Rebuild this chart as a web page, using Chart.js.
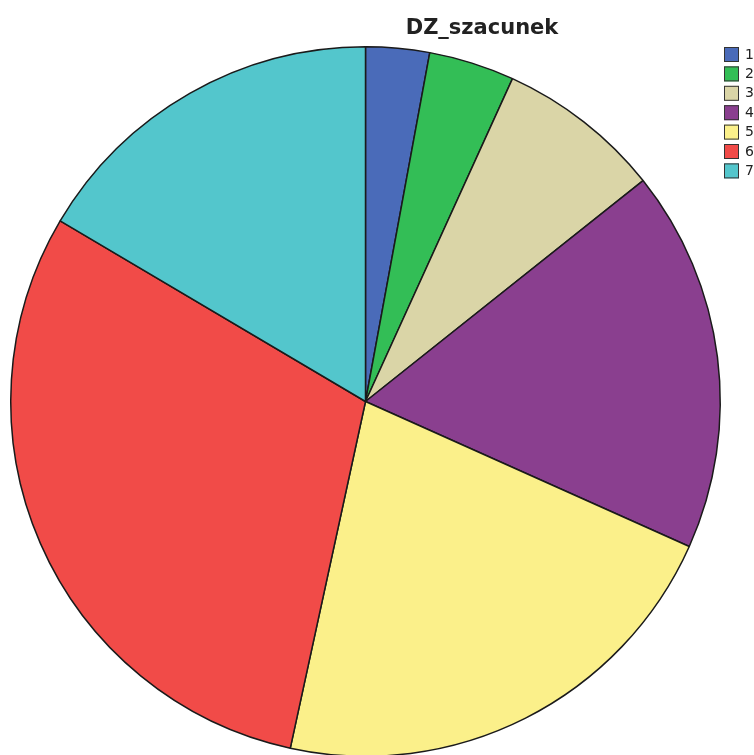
<!DOCTYPE html>
<html>
<head>
<meta charset="utf-8">
<script src="https://cdn.jsdelivr.net/npm/chart.js@4/dist/chart.umd.min.js"></script>
<style>
  html, body { margin: 0; padding: 0; background: #fff; overflow: hidden; }
  #wrap { position: relative; width: 754px; height: 770px; }
</style>
</head>
<body>
<div id="wrap"><canvas id="c" width="754" height="770"></canvas></div>
<script>
// Category codes of DZ_szacunek and their shares (%)
const categories = ['1', '2', '3', '4', '5', '6', '7'];
const shares = [2.9, 3.9, 7.5, 17.4, 21.7, 30.1, 16.5];
const sliceColors = ['#4A6BB9', '#33BE56', '#DAD5A7', '#8A3F8F', '#FBF08A', '#F14B48', '#53C6CC'];
const chartTitle = 'DZ_szacunek';

// Title and square-swatch legend drawn onto the canvas
const decorations = {
  id: 'decorations',
  afterDraw(chart) {
    const ctx = chart.ctx;
    ctx.save();
    ctx.fillStyle = '#222';
    ctx.font = 'bold 21px "DejaVu Sans", sans-serif';
    ctx.textAlign = 'center';
    ctx.textBaseline = 'alphabetic';
    ctx.fillText(chartTitle, 482, 34);

    ctx.font = '14px "DejaVu Sans", sans-serif';
    ctx.textAlign = 'left';
    ctx.textBaseline = 'middle';
    categories.forEach((label, i) => {
      const y = 47 + i * 19.4;
      ctx.fillStyle = sliceColors[i];
      ctx.fillRect(724, y, 15, 15);
      ctx.strokeStyle = '#333';
      ctx.lineWidth = 1;
      ctx.strokeRect(724.5, y + 0.5, 14, 14);
      ctx.fillStyle = '#222';
      ctx.fillText(label, 745, y + 8);
    });
    ctx.restore();
  }
};

new Chart(document.getElementById('c'), {
  type: 'pie',
  data: {
    labels: categories,
    datasets: [{
      data: shares,
      backgroundColor: sliceColors,
      borderColor: '#1a1a1a',
      borderWidth: 1.5,
      hoverOffset: 0
    }]
  },
  options: {
    responsive: false,
    animation: false,
    layout: { padding: { left: 10, right: 33, top: 46, bottom: 13 } },
    plugins: {
      legend: { display: false },
      title: { display: false },
      tooltip: { enabled: false }
    }
  },
  plugins: [decorations]
});
</script>
</body>
</html>
